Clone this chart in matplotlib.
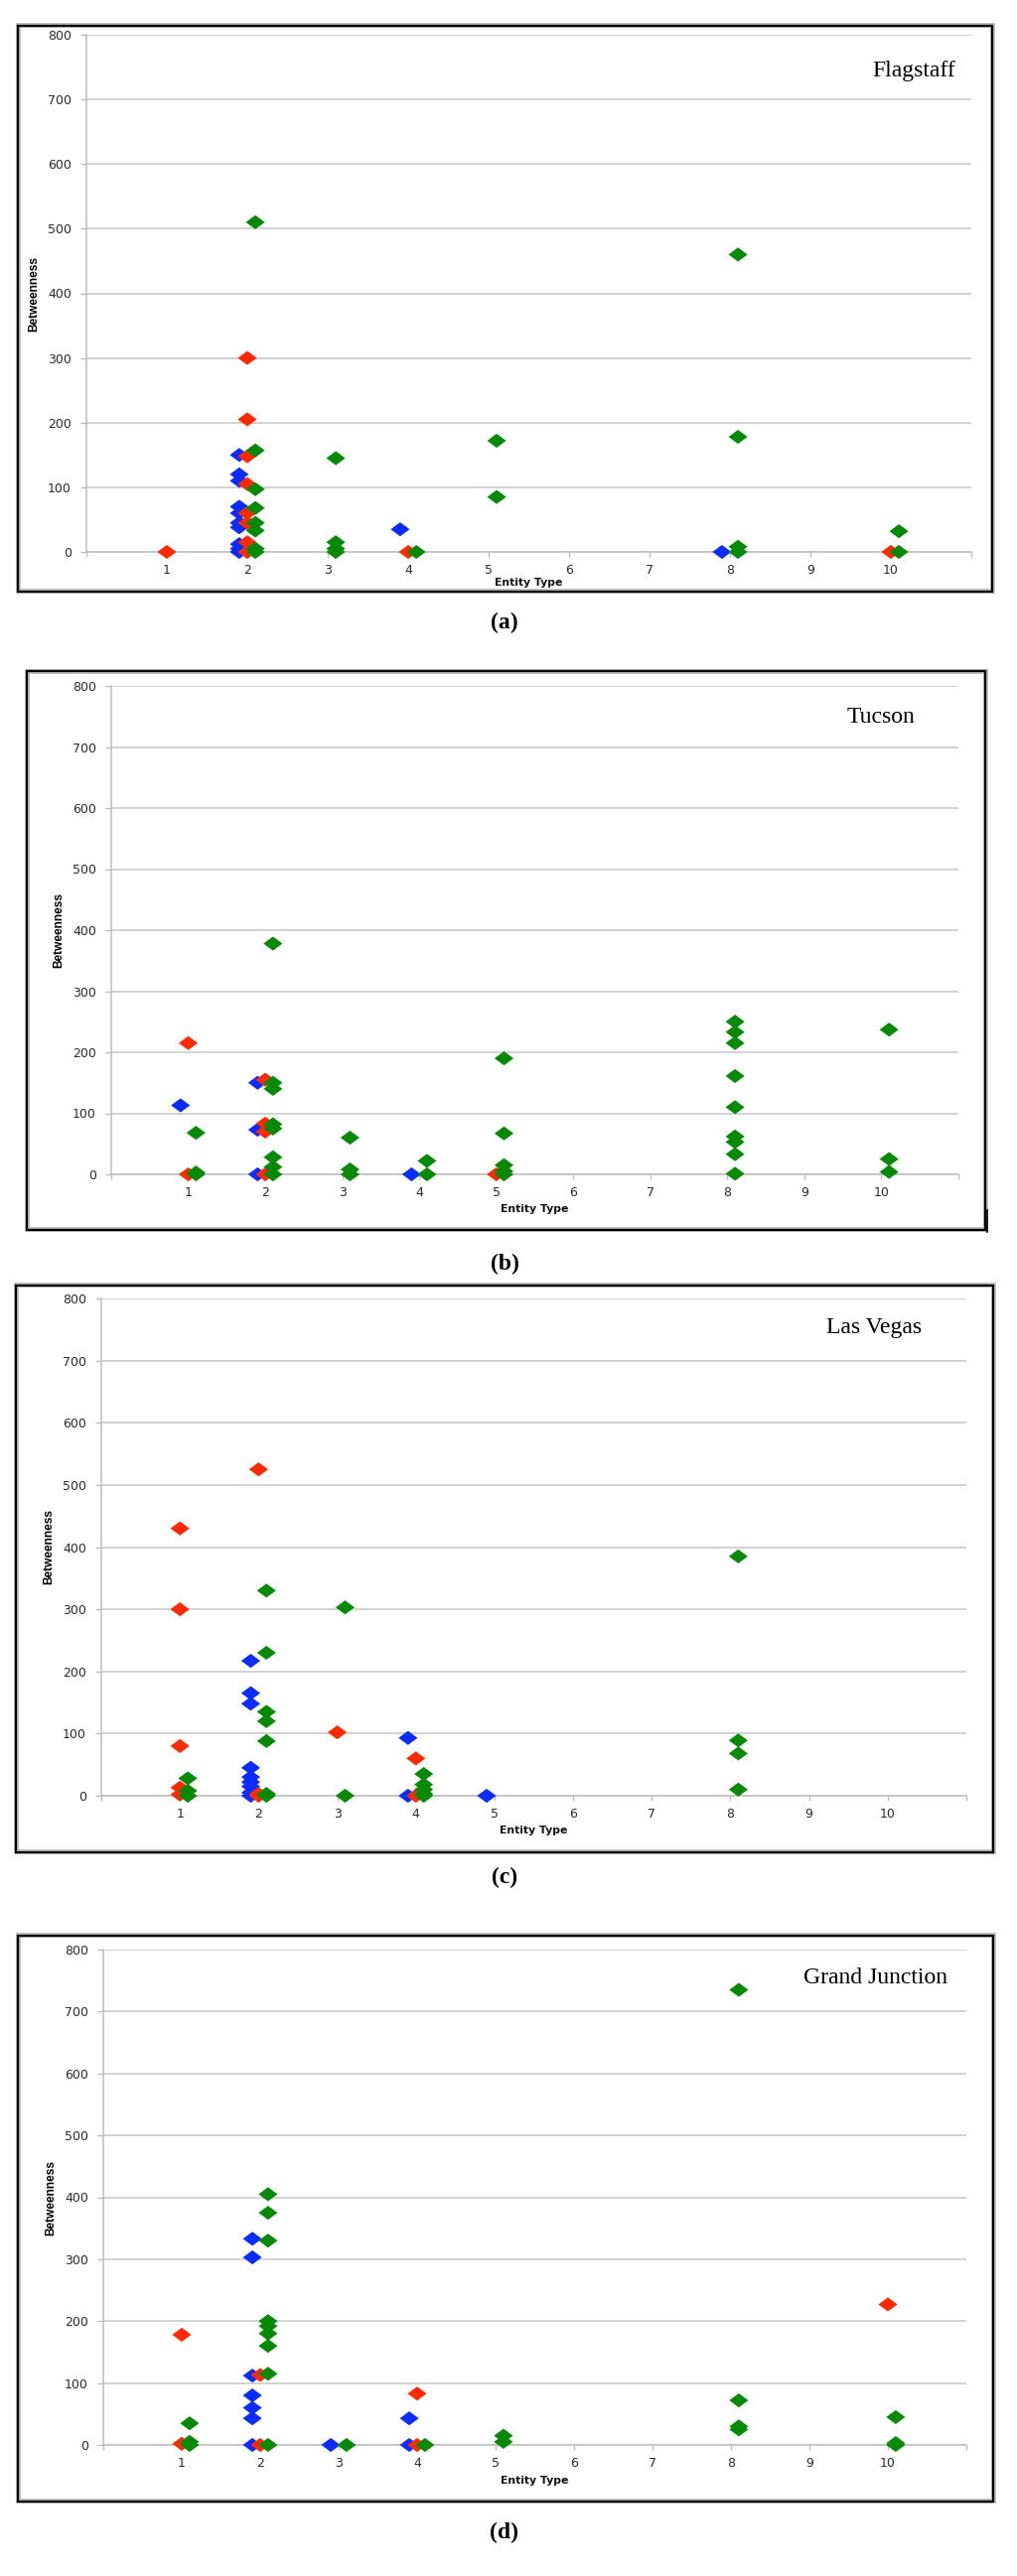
import matplotlib
matplotlib.use("Agg")
import matplotlib.pyplot as plt
from matplotlib import font_manager
from matplotlib.patches import Rectangle
from matplotlib.lines import Line2D

W, H = 1024, 2595

# ---- data: entity type / betweenness, per city and series ----
# Flagstaff
flag_blue_type = [2, 2, 2, 2, 2, 2, 2, 2, 2, 2, 4, 8]
flag_blue_val = [150, 120, 110, 70, 60, 45, 38, 12, 5, 0, 35, 0]
flag_red_type = [1, 2, 2, 2, 2, 2, 2, 2, 2, 4, 10]
flag_red_val = [0, 300, 205, 148, 105, 60, 45, 15, 0, 0, 0]
flag_green_type = [2, 2, 2, 2, 2, 2, 2, 2, 3, 3, 3, 3, 4, 5, 5, 8, 8, 8, 8, 10, 10]
flag_green_val = [510, 157, 97, 68, 45, 33, 5, 0, 145, 15, 5, 0, 0, 172, 85, 460, 178, 8, 0, 32, 0]

# Tucson
tuc_blue_type = [1, 2, 2, 2, 4]
tuc_blue_val = [113, 150, 73, 0, 0]
tuc_red_type = [1, 1, 2, 2, 2, 2, 5]
tuc_red_val = [215, 0, 155, 83, 70, 0, 0]
tuc_green_type = [1, 1, 1, 2, 2, 2, 2, 2, 2, 2, 2, 3, 3, 3, 4, 4,
                  5, 5, 5, 5, 5, 8, 8, 8, 8, 8, 8, 8, 8, 8, 10, 10, 10]
tuc_green_val = [68, 3, 0, 378, 150, 140, 82, 75, 28, 12, 0, 60, 8, 0, 22, 0,
                 190, 67, 15, 5, 0, 250, 233, 215, 161, 110, 62, 53, 33, 1, 237, 25, 4]

# Las Vegas
lv_blue_type = [2, 2, 2, 2, 2, 2, 2, 2, 2, 4, 4, 5]
lv_blue_val = [217, 165, 148, 45, 30, 22, 15, 5, 0, 93, 0, 0]
lv_red_type = [1, 1, 1, 1, 1, 2, 2, 2, 3, 4, 4]
lv_red_val = [430, 300, 80, 13, 2, 525, 3, 0, 102, 60, 0]
lv_green_type = [1, 1, 1, 2, 2, 2, 2, 2, 2, 2, 3, 3, 4, 4, 4, 4, 4, 8, 8, 8, 8]
lv_green_val = [28, 8, 0, 330, 230, 135, 120, 88, 3, 0, 303, 0, 35, 18, 10, 3, 0, 385, 89, 68, 10]

# Grand Junction
gj_blue_type = [2, 2, 2, 2, 2, 2, 2, 3, 4, 4]
gj_blue_val = [333, 303, 112, 80, 60, 43, 0, 0, 43, 0]
gj_red_type = [1, 1, 2, 2, 4, 4, 10]
gj_red_val = [178, 2, 113, 0, 83, 0, 227]
gj_green_type = [1, 1, 1, 2, 2, 2, 2, 2, 2, 2, 2, 2, 3, 4, 5, 5, 8, 8, 8, 8, 10, 10, 10]
gj_green_val = [35, 5, 0, 405, 375, 330, 200, 192, 180, 160, 115, 0, 0, 0, 15, 5, 735, 72, 30, 25, 45, 3, 0]

x_ticks = list(range(0, 12))
x_ticklabels = [""] + [str(i) for i in range(1, 11)] + [""]
y_ticks = [0, 100, 200, 300, 400, 500, 600, 700, 800]

BLUE = "#0b2cff"
RED = "#ff2a00"
GREEN = "#068a06"
GRID = "#c6c6c6"
DIAMOND = [(-1, 0), (0, 0.74), (1, 0), (0, -0.74), (-1, 0)]

panels = [
    dict(frame=(18, 25, 999, 595), plot=(87, 35, 978, 556), city="Flagstaff", city_xy=(962, 71),
         ent_y=587, cap="(a)", cap_y=627,
         series=[(flag_blue_type, flag_blue_val, BLUE, -0.1),
                 (flag_red_type, flag_red_val, RED, 0.0),
                 (flag_green_type, flag_green_val, GREEN, 0.1)]),
    dict(frame=(27, 676, 992, 1238), plot=(112, 691, 965, 1183), city="Tucson", city_xy=(921, 723),
         ent_y=1218, cap="(b)", cap_y=1273,
         series=[(tuc_blue_type, tuc_blue_val, BLUE, -0.1),
                 (tuc_red_type, tuc_red_val, RED, 0.0),
                 (tuc_green_type, tuc_green_val, GREEN, 0.1)]),
    dict(frame=(16, 1294, 1000, 1865), plot=(102, 1308, 973, 1809), city="Las Vegas", city_xy=(928, 1337),
         ent_y=1844, cap="(c)", cap_y=1891,
         series=[(lv_blue_type, lv_blue_val, BLUE, -0.1),
                 (lv_red_type, lv_red_val, RED, 0.0),
                 (lv_green_type, lv_green_val, GREEN, 0.1)]),
    dict(frame=(18, 1949, 1000, 2519), plot=(104, 1964, 973, 2463), city="Grand Junction", city_xy=(954, 1993),
         ent_y=2499, cap="(d)", cap_y=2551,
         series=[(gj_blue_type, gj_blue_val, BLUE, -0.1),
                 (gj_red_type, gj_red_val, RED, 0.0),
                 (gj_green_type, gj_green_val, GREEN, 0.1)]),
]

installed = {f.name for f in font_manager.fontManager.ttflist}
if "Liberation Sans Narrow" in installed:
    ylab_font, ylab_size = "Liberation Sans Narrow", 10
else:
    ylab_font, ylab_size = "Liberation Sans", 8.6


def fx(px):
    return px / W


def fy(py):
    return 1 - py / H


fig = plt.figure(figsize=(W / 100, H / 100), dpi=100)
fig.patch.set_facecolor("white")

for p in panels:
    l, t, r, b = p["frame"]
    # outer frame with a soft inner edge
    fig.add_artist(Rectangle((fx(l), fy(b)), (r - l) / W, (b - t) / H, transform=fig.transFigure,
                             fill=False, edgecolor="#bbbbbb", linewidth=3.5, zorder=0))
    fig.add_artist(Rectangle((fx(l) - 0.5 / W, fy(b) - 0.5 / H), (r - l) / W, (b - t) / H,
                             transform=fig.transFigure, fill=False, edgecolor="black",
                             linewidth=1.6, zorder=1))

    pl, pt, pr, pb = p["plot"]
    ax = fig.add_axes([fx(pl), fy(pb), (pr - pl) / W, (pb - pt) / H])
    ax.set_facecolor("none")
    ax.set_xlim(0, 11)
    ax.set_ylim(0, 800)
    ax.set_xticks(x_ticks)
    ax.set_xticklabels(x_ticklabels)
    ax.set_yticks(y_ticks)
    ax.yaxis.grid(True, color=GRID, linewidth=1.1)
    ax.set_axisbelow(True)
    for s in ["top", "right"]:
        ax.spines[s].set_visible(False)
    for s in ["left", "bottom"]:
        ax.spines[s].set_color("#bdbdbd")
        ax.spines[s].set_linewidth(1.1)
    ax.tick_params(axis="y", direction="out", length=4.3, width=1.0, color="#bdbdbd",
                   pad=6.5, labelsize=9, labelcolor="#2a2a2a")
    ax.tick_params(axis="x", direction="out", length=3.6, width=1.0, color="#bdbdbd",
                   pad=5, labelsize=9, labelcolor="#2a2a2a")

    for types, vals, col, off in p["series"]:
        ax.scatter([t_ + off for t_ in types], vals, marker=DIAMOND, s=190, color=col,
                   edgecolors="none", clip_on=False, zorder=3)

    fig.text(fx(pl - 53), fy((pt + pb) / 2), "Betweenness", rotation=90, ha="center", va="center",
             fontsize=ylab_size, fontweight="bold", family=ylab_font)
    fig.text(fx((pl + pr) / 2), fy(p["ent_y"]), "Entity Type", ha="center", va="center",
             fontsize=7.8, fontweight="bold", color="#111111")
    cx, cy = p["city_xy"]
    fig.text(fx(cx), fy(cy), p["city"], ha="right", va="center", fontsize=17,
             family="Liberation Serif")
    fig.text(fx(508), fy(p["cap_y"]), p["cap"], ha="center", va="center", fontsize=17,
             fontweight="bold", family="Liberation Serif")

# small stray rule at the lower right of panel (b)
fig.add_artist(Line2D([fx(994), fx(994)], [fy(1219), fy(1241)], transform=fig.transFigure,
                      color="black", linewidth=1.2))

fig.savefig("out.png", dpi=100)
